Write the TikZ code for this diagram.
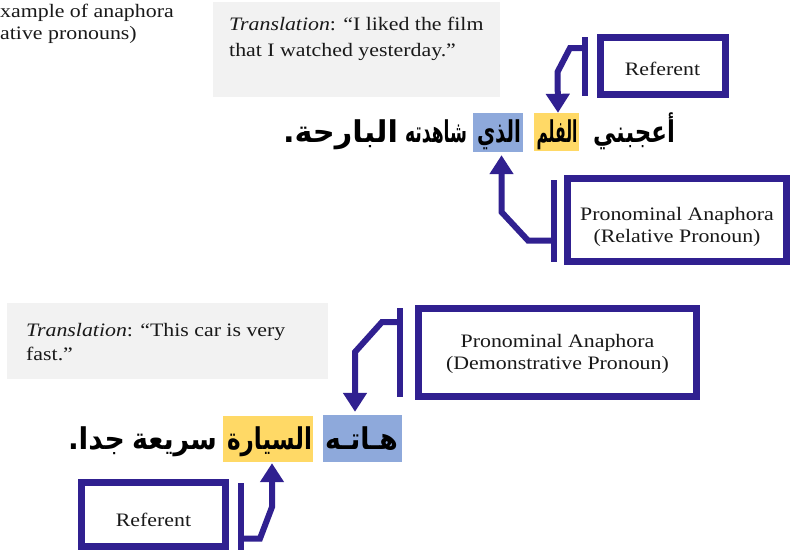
\documentclass[tikz,border=0pt]{standalone}
\usepackage{fontspec}
\usepackage{graphicx}
\setmainfont{Liberation Serif}[FakeStretch=1.15]
\newfontfamily\arabicfont[Script=Arabic]{DejaVu Sans}
\TeXXeTstate=1
\usetikzlibrary{arrows.meta}
\definecolor{ind}{RGB}{48,32,144}
\definecolor{hlblue}{RGB}{142,169,219}
\definecolor{hlyel}{RGB}{255,217,102}
\definecolor{greybg}{RGB}{242,242,242}
\newcommand{\arw}[2]{\resizebox{#1pt}{\height}{\beginR #2\endR}}
\begin{document}
\begin{tikzpicture}[x=1pt,y=-1pt,
  txt/.style={inner sep=0pt, font=\fontsize{19}{22}\selectfont, text=black!90},
  lbox/.style={draw=ind, line width=7pt, fill=white, inner sep=0pt},
  greybox/.style={fill=greybg, inner sep=0pt},
  hly/.style={fill=hlyel, inner sep=0pt},
  hlb/.style={fill=hlblue, inner sep=0pt},
  ar/.style={inner sep=0pt, anchor=base, font=\arabicfont\bfseries\fontsize{30}{32}\selectfont},
  bar/.style={draw=ind, line width=6pt},
  conn/.style={draw=ind, line width=6pt, line join=miter, -{Triangle[width=23pt,length=19pt]}},
]
\useasboundingbox (0,0) rectangle (791,550);

% caption (cut at the left edge)
\node[txt, anchor=base west] (cap1) at (0,17) {xample of anaphora};
\node[txt, anchor=base west] (cap2) at (0,39) {ative pronouns)};

% translation boxes
\node[greybox, minimum width=287pt, minimum height=95pt] (g1) at (356.5,49.5) {};
\node[txt, anchor=base west] (t1a) at (229,30) {\textit{Translation}: “I liked the film};
\node[txt, anchor=base west] (t1b) at (229,56) {that I watched yesterday.”};

\node[greybox, minimum width=321pt, minimum height=76pt] (g2) at (167.5,341) {};
\node[txt, anchor=base west] (t2a) at (26,336) {\textit{Translation}: “This car is very};
\node[txt, anchor=base west] (t2b) at (26,360) {fast.”};

% label boxes
\node[lbox, minimum width=125pt, minimum height=57pt] (ref1) at (662.5,66) {};
\node[txt] (ref1t) at (662.5,68.5) {Referent};

\node[lbox, minimum width=219pt, minimum height=83pt] (rel) at (677,220) {};
\node[txt, align=center] (relt) at (677,227) {Pronominal Anaphora\\(Relative Pronoun)};

\node[lbox, minimum width=278pt, minimum height=88pt] (dem) at (557.5,352.5) {};
\node[txt, align=center] (demt) at (557.5,354) {Pronominal Anaphora\\(Demonstrative Pronoun)};

\node[lbox, minimum width=144pt, minimum height=64pt] (ref2) at (153.5,514.5) {};
\node[txt] (ref2t) at (153.5,520) {Referent};

% sentence 1
\node[hly, minimum width=45pt, minimum height=38pt] (film) at (556.5,132) {};
\node[hlb, minimum width=50pt, minimum height=39pt] (alladhi) at (498,132.5) {};
\node[ar] (w1a) at (634,142) {\arw{82}{أعجبني}};
\node[ar] (w1b) at (557,142) {\arw{41}{الفلم}};
\node[ar] (w1c) at (499,142) {\arw{44}{الذي}};
\node[ar] (w1d) at (436,142) {\arw{62}{شاهدته}};
\node[ar] (w1e) at (340.5,142) {\arw{115}{البارحة.}};

% sentence 2
\node[hlb, minimum width=79pt, minimum height=47pt] (haatih) at (362.5,438.5) {};
\node[hly, minimum width=90pt, minimum height=46pt] (sayyara) at (268,439) {};
\node[ar] (w2a) at (361.5,449) {\arw{73}{هـاتـه}};
\node[ar] (w2b) at (269.5,449) {\arw{85}{السيارة}};
\node[ar] (w2c) at (174.5,449) {\arw{85}{سريعة}};
\node[ar] (w2d) at (96.5,449) {\arw{57}{جدا.}};

% brackets
\coordinate (b1t) at (584.5,37);  \coordinate (b1b) at (584.5,96);
\coordinate (b2t) at (554,180);   \coordinate (b2b) at (554,262);
\coordinate (b3t) at (400,308);   \coordinate (b3b) at (400,397);
\coordinate (b4t) at (241,483);   \coordinate (b4b) at (241,550);
\draw[bar] (b1t) -- (b1b);
\draw[bar] (b2t) -- (b2b);
\draw[bar] (b3t) -- (b3b);
\draw[bar] (b4t) -- (b4b);

% connectors
\coordinate (c1) at (584.5,48);
\draw[conn] (c1) -- ++(-14.5,0) -- ++(-12.5,24) -- ([xshift=1.5pt]film.north);
\coordinate (c2) at (554,240.5);
\draw[conn] (c2) -- ++(-26,0) -- ++(-26.5,-28.5) -- ([xshift=3.5pt,yshift=-3pt]alladhi.south);
\coordinate (c3) at (400,322);
\draw[conn] (c3) -- ++(-18,0) -- ++(-27,30) -- ([xshift=-7.5pt,yshift=3pt]haatih.north);
\coordinate (c4) at (241,538.5);
\draw[conn] (c4) -- ++(19,0) -- ++(12,-31.5) -- ([xshift=4pt,yshift=-1pt]sayyara.south);
\end{tikzpicture}
\end{document}
